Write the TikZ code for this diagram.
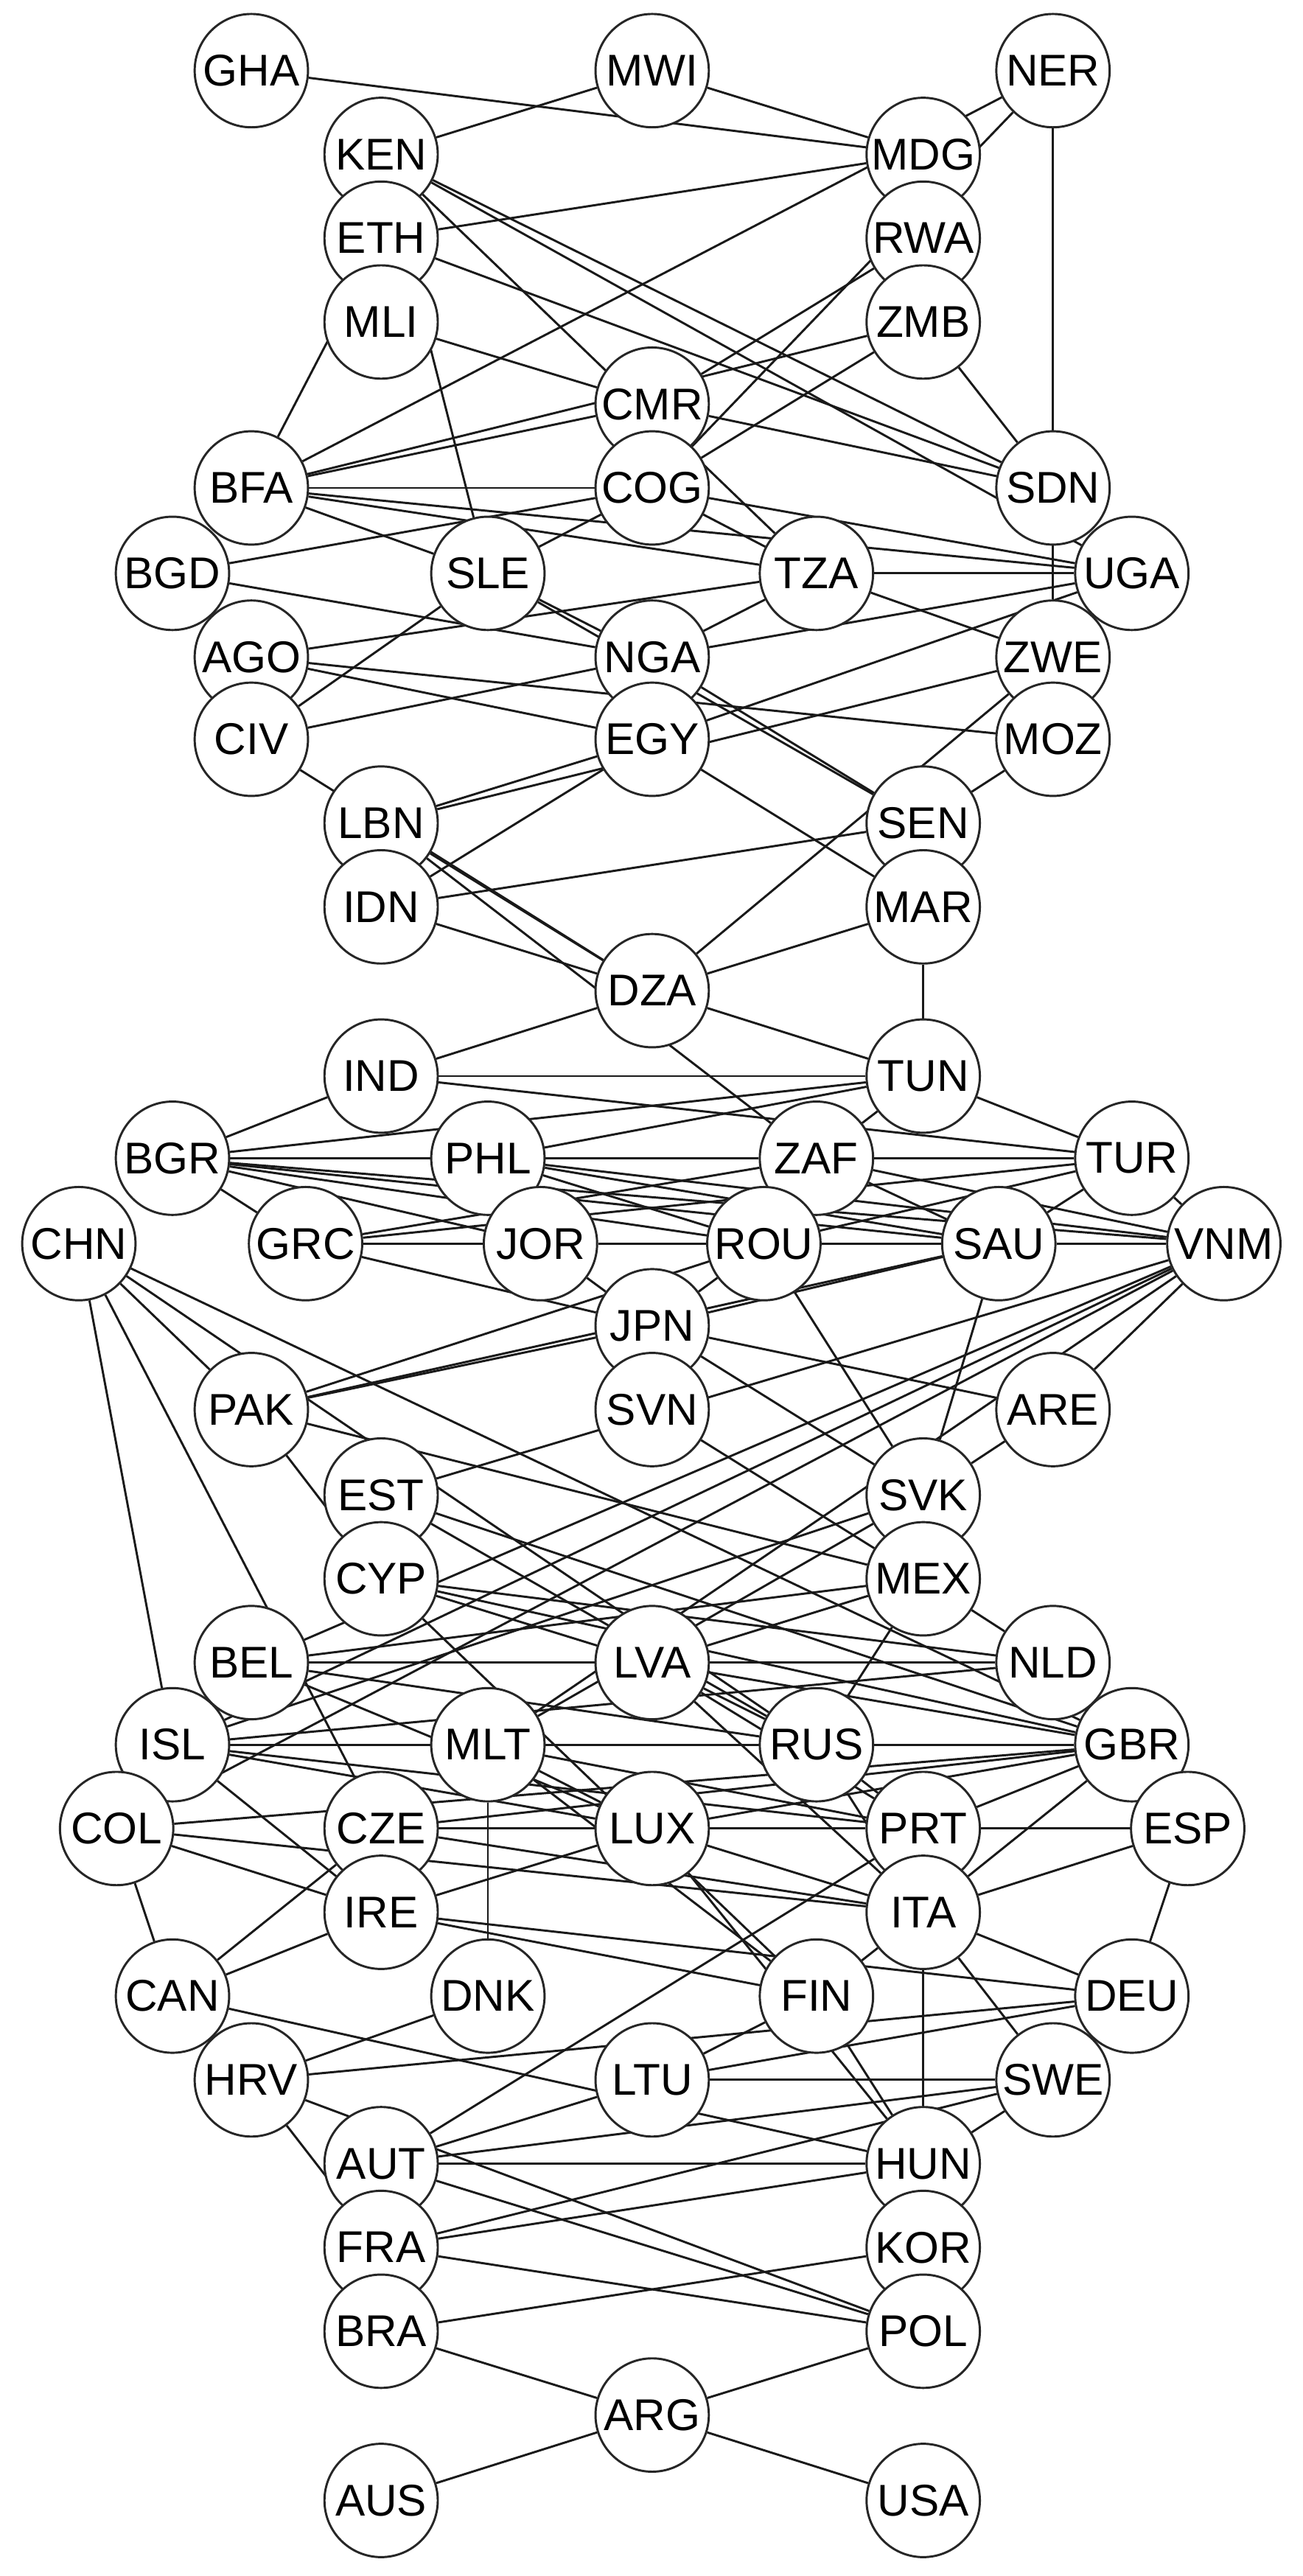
\documentclass[tikz,border=0pt]{standalone}
\usepackage{fontspec}
\setmainfont{Liberation Sans}
\usetikzlibrary{backgrounds}
\begin{document}
\begin{tikzpicture}[x=0.02cm,y=-0.02cm,
  cn/.style={circle,draw=black!85,line width=0.75pt,fill=white,minimum size=1.38cm,inner sep=0pt,font=\fontsize{15.4}{16}\selectfont},
  ed/.style={line width=0.75pt,black!90}]
\useasboundingbox (0,0) rectangle (793,1568);
\foreach \n/\x/\y in {GHA/153/43,MWI/397/43,NER/641/43,KEN/232/94,MDG/562/94,ETH/232/145,RWA/562/145,
MLI/232/196,ZMB/562/196,CMR/397/246,BFA/153/297,COG/397/297,SDN/641/297,BGD/105/349,SLE/297/349,TZA/497/349,UGA/689/349,
AGO/153/400,NGA/397/400,ZWE/641/400,CIV/153/450,EGY/397/450,MOZ/641/450,LBN/232/501,SEN/562/501,IDN/232/552,MAR/562/552,
DZA/397/603,IND/232/655,TUN/562/655,BGR/105/705,PHL/297/705,ZAF/497/705,TUR/689/705,
CHN/48/757,GRC/186/757,JOR/329/757,ROU/465/757,SAU/608/757,VNM/745/757,JPN/397/807,
PAK/153/858,SVN/397/858,ARE/641/858,EST/232/910,SVK/562/910,CYP/232/961,MEX/562/961,
BEL/153/1012,LVA/397/1012,NLD/641/1012,ISL/105/1062,MLT/297/1062,RUS/497/1062,GBR/689/1062,
COL/71/1113,CZE/232/1113,LUX/397/1113,PRT/562/1113,ESP/723/1113,IRE/232/1164,ITA/562/1164,
CAN/105/1215,DNK/297/1215,FIN/497/1215,DEU/689/1215,HRV/153/1266,LTU/397/1266,SWE/641/1266,
AUT/232/1317,HUN/562/1317,FRA/232/1368,KOR/562/1368,BRA/232/1419,POL/562/1419,ARG/397/1470,AUS/232/1522,USA/562/1522}
  \node[cn] (\n) at (\x,\y) {\n};
\begin{scope}[on background layer]
\fill[white] (0,0) rectangle (793,1568);
\foreach \a/\b in {GHA/MDG,MWI/KEN,MWI/MDG,NER/BFA,NER/COG,NER/SDN,KEN/SDN,KEN/UGA,KEN/TZA,KEN/SLE,ETH/MDG,ETH/BFA,ETH/SDN,
MLI/CMR,RWA/CMR,ZMB/BFA,ZMB/COG,ZMB/SDN,CMR/SDN,BFA/CMR,BFA/COG,BFA/TZA,BFA/UGA,BFA/SLE,BGD/COG,BGD/NGA,SLE/COG,SLE/CIV,
SLE/NGA,SLE/SEN,COG/UGA,COG/TZA,AGO/TZA,AGO/MOZ,AGO/EGY,CIV/NGA,CIV/DZA,NGA/TZA,NGA/UGA,NGA/SEN,TZA/ZWE,TZA/UGA,EGY/UGA,
EGY/LBN,LBN/ZWE,EGY/IDN,EGY/MAR,SEN/MOZ,DZA/ZWE,IDN/SEN,IDN/DZA,LBN/DZA,LBN/ZAF,MAR/DZA,MAR/TUN,DZA/TUN,SDN/ZWE,
IND/DZA,IND/BGR,IND/TUN,IND/TUR,BGR/TUN,BGR/PHL,BGR/GRC,BGR/JOR,BGR/ROU,BGR/SAU,BGR/VNM,PHL/TUN,PHL/ROU,PHL/VNM,PHL/SAU,
PHL/ZAF,ZAF/TUN,ZAF/ROU,ZAF/SAU,ZAF/TUR,ZAF/VNM,TUN/TUR,GRC/JOR,GRC/ZAF,GRC/TUR,GRC/JPN,JOR/ROU,JOR/SAU,ROU/SAU,ROU/TUR,
SAU/VNM,TUR/SAU,TUR/VNM,ROU/JPN,JOR/JPN,
CHN/ISL,CHN/CZE,CHN/PAK,CHN/RUS,CHN/GBR,PAK/JPN,PAK/ROU,PAK/SAU,PAK/CYP,PAK/MEX,EST/RUS,EST/GBR,VNM/EST,JPN/ARE,JPN/SVK,
JPN/SAU,ROU/SVK,SAU/SVK,VNM/ARE,VNM/BEL,VNM/MLT,ISL/VNM,COL/VNM,SVK/ARE,SVK/MEX,SVK/ISL,SVK/MLT,MEX/NLD,MEX/LVA,MEX/RUS,
SVN/MEX,BEL/MEX,CYP/NLD,CYP/LVA,CYP/FIN,CYP/GBR,
BEL/LVA,BEL/RUS,BEL/LUX,ISL/MLT,ISL/RUS,ISL/LUX,ISL/GBR,ISL/NLD,ISL/IRE,ISL/PRT,COL/GBR,COL/IRE,COL/CAN,COL/ITA,CZE/LUX,
CZE/PRT,CZE/GBR,CZE/ITA,MLT/DNK,MLT/LUX,MLT/PRT,MLT/FIN,LVA/NLD,LVA/RUS,LVA/GBR,LVA/PRT,LVA/ITA,RUS/GBR,RUS/PRT,RUS/ITA,
GBR/PRT,GBR/ITA,LUX/GBR,GBR/ESP,LUX/PRT,LUX/ITA,LUX/HUN,PRT/ESP,ESP/ITA,ESP/DEU,ITA/DEU,ITA/FIN,ITA/HUN,ITA/SWE,IRE/LUX,
IRE/FIN,IRE/DEU,IRE/CAN,CAN/CZE,CAN/HUN,HRV/DNK,HRV/DEU,HRV/FRA,HRV/POL,FIN/HUN,FIN/LTU,LTU/DEU,LTU/SWE,LTU/AUT,DEU/SWE,
SWE/HUN,SWE/FRA,AUT/PRT,AUT/HUN,AUT/POL,AUT/SWE,FRA/HUN,FRA/POL,BRA/KOR,BRA/ARG,ARG/POL,ARG/AUS,ARG/USA}
  \draw[ed] (\a) -- (\b);
\end{scope}
\end{tikzpicture}
\end{document}
